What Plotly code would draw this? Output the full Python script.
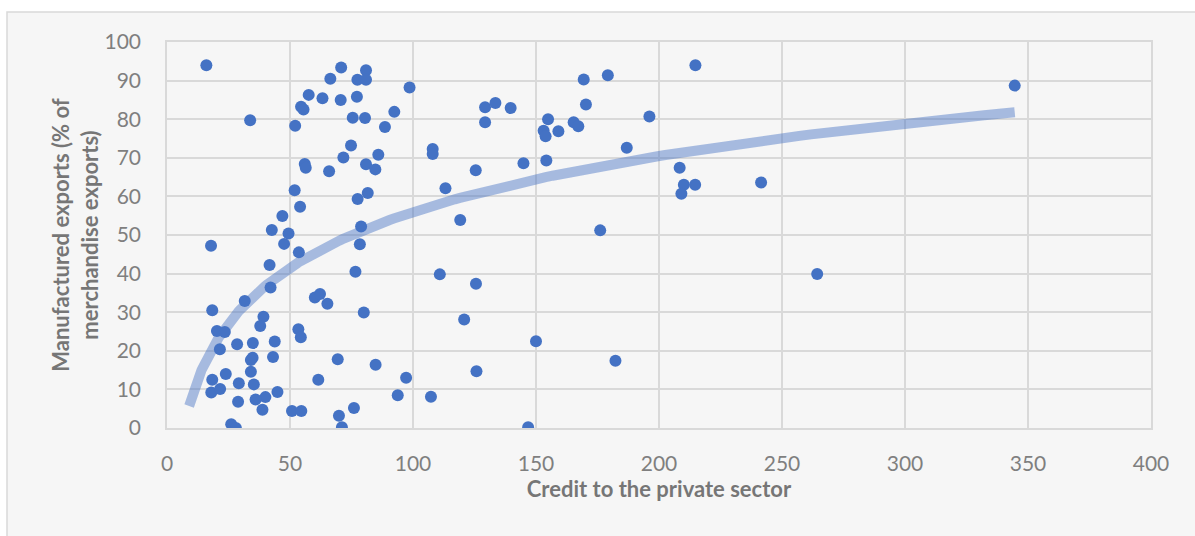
import numpy as np
import plotly.graph_objects as go

credit = [16.0, 33.8, 52.1, 70.8, 66.4, 77.4, 80.9, 80.9, 57.6, 63.2, 70.6, 77.2, 54.5, 55.5,
          75.5, 80.5, 88.6, 92.4, 74.8, 71.7, 85.9, 80.9, 84.7, 56.0, 56.4, 65.9, 51.9, 54.1,
          77.5, 81.6, 46.9, 42.6, 49.4, 78.9, 17.9, 47.6, 53.6, 78.4, 41.7, 76.6, 42.1, 31.6,
          18.4, 39.2, 37.9, 20.3, 23.5, 60.1, 62.2, 65.2, 80.0, 53.4, 54.4, 21.5, 28.5, 34.9,
          43.8, 34.8, 34.1, 43.1, 34.1, 23.9, 18.4, 18.0, 21.6, 29.2, 35.3, 44.9, 40.0, 36.0,
          28.9, 38.8, 50.8, 54.6, 26.1, 28.0, 69.4, 61.5, 84.8, 93.8, 76.0, 69.9, 71.1, 98.6,
          108.0, 108.0, 113.2, 125.5, 119.2, 129.3, 133.5, 139.7, 129.3, 144.9, 154.9, 153.1,
          153.9, 159.1, 154.2, 169.4, 179.2, 170.3, 165.3, 167.2, 186.9, 196.1, 176.1, 110.9,
          125.6, 120.8, 150.0, 182.3, 125.8, 97.2, 107.3, 146.8, 214.8, 344.6, 208.4, 210.1,
          214.7, 209.1, 241.5, 264.3]
manufactured = [94.0, 79.7, 78.3, 93.4, 90.5, 90.2, 92.7, 90.2, 86.3, 85.4, 85.0, 85.8, 83.2, 82.5,
                80.4, 80.3, 78.0, 81.9, 73.2, 70.1, 70.8, 68.3, 67.0, 68.4, 67.4, 66.5, 61.6, 57.3,
                59.3, 60.9, 54.9, 51.3, 50.4, 52.2, 47.2, 47.7, 45.5, 47.6, 42.2, 40.5, 36.4, 32.9,
                30.5, 28.8, 26.4, 25.1, 24.9, 33.8, 34.7, 32.2, 29.9, 25.6, 23.5, 20.4, 21.7, 22.0,
                22.4, 18.2, 17.6, 18.4, 14.6, 14.0, 12.5, 9.2, 10.1, 11.6, 11.3, 9.3, 8.0, 7.4,
                6.8, 4.7, 4.4, 4.4, 1.0, 0.0, 17.8, 12.5, 16.4, 8.5, 5.2, 3.2, 0.2, 88.2,
                72.3, 71.0, 62.1, 66.8, 53.9, 83.1, 84.2, 82.9, 79.2, 68.6, 80.0, 77.0,
                75.6, 76.9, 69.3, 90.3, 91.4, 83.8, 79.2, 78.2, 72.6, 80.7, 51.2, 39.8,
                37.4, 28.1, 22.5, 17.4, 14.7, 13.0, 8.1, 0.2, 94.0, 88.7, 67.4, 63.0,
                63.0, 60.7, 63.6, 39.9]

x_ticks = [0, 50, 100, 150, 200, 250, 300, 350, 400]
y_ticks = [0, 10, 20, 30, 40, 50, 60, 70, 80, 90, 100]
trend_start = 9.0

# logarithmic trendline (least squares on ln x), like the spreadsheet trendline
xa = np.array(credit)
ya = np.array(manufactured)
a, b = np.polyfit(np.log(xa), ya, 1)
tx = np.geomspace(trend_start, xa.max(), 200)
ty = a * np.log(tx) + b

fig = go.Figure()
fig.add_trace(go.Scatter(x=tx, y=ty, mode="lines",
                         line=dict(color="rgba(68,114,196,0.45)", width=10),
                         hoverinfo="skip", showlegend=False))
fig.add_trace(go.Scatter(x=credit, y=manufactured, mode="markers",
                         marker=dict(color="#4472C4", size=12, line=dict(width=0)),
                         showlegend=False))

W, H = 1195, 536
L, R, T, B = 167, 44, 42, 108
pw, ph = W - L - R, H - T - B
def px2paper_x(px):
    return (px - L) / pw
def px2paper_y(py):
    return (H - B - py) / ph

fig.add_shape(type="rect", xref="paper", yref="paper",
              x0=px2paper_x(7), x1=px2paper_x(1200), y0=px2paper_y(540), y1=px2paper_y(12),
              line=dict(color="#D9D9D9", width=1.5), fillcolor="#F6F6F6", layer="below")

tickfont = dict(family="Lato, 'Open Sans', sans-serif", size=21, color="#7F7F7F")
titlefont = dict(family="Lato, 'Open Sans', sans-serif", size=22, color="#767676")

fig.update_layout(
    width=W, height=H,
    margin=dict(l=L, r=R, t=T, b=B, autoexpand=False),
    paper_bgcolor="#FFFFFF",
    plot_bgcolor="#FCFCFC",
    xaxis=dict(range=[0, 400], tickvals=x_ticks, ticktext=[str(v) for v in x_ticks],
               showgrid=True, gridcolor="#D9D9D9", gridwidth=1.5,
               zeroline=False, showline=True, linecolor="#D9D9D9", linewidth=1.5, mirror=True,
               ticks="outside", ticklen=16, tickcolor="rgba(0,0,0,0)",
               tickfont=tickfont,
               title=dict(text="<b>Credit to the private sector</b>", font=titlefont, standoff=6)),
    yaxis=dict(range=[0, 100], tickvals=y_ticks, ticktext=[str(v) for v in y_ticks],
               showgrid=True, gridcolor="#D9D9D9", gridwidth=1.5,
               zeroline=False, showline=True, linecolor="#D9D9D9", linewidth=1.5, mirror=True,
               ticks="outside", ticklen=20, tickcolor="rgba(0,0,0,0)",
               tickfont=tickfont,
               title=dict(text="<b>Manufactured exports (% of<br>merchandise exports)</b>",
                          font=titlefont, standoff=0)),
)

fig.write_html("out.html")
